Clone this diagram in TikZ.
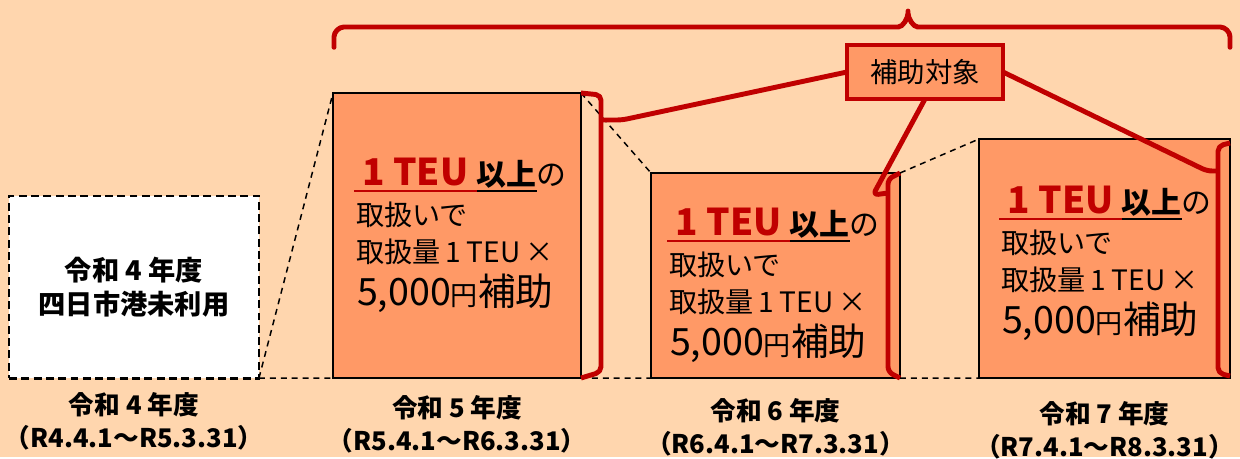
\documentclass[tikz,border=0pt]{standalone}
\usepackage{fontspec}
\setmainfont{Noto Sans CJK JP}
\usepackage{tikz}
\usetikzlibrary{positioning}
\definecolor{peach}{HTML}{FFD6AE}
\definecolor{boxorange}{HTML}{FF9966}
\definecolor{darkred}{HTML}{C00000}
\tikzset{every picture/.style={line width=0.85pt}}
\newcommand\fsz[2]{\fontsize{#1pt}{#2pt}\selectfont}
\newsavebox\ulbox
\newcommand\ulbar[2]{\sbox\ulbox{#2}\rlap{\textcolor{#1}{\vrule width\wd\ulbox height -2.9pt depth 4.0pt}}\usebox\ulbox}
\tikzset{
  yearbox/.style 2 args={draw=black, fill=boxorange, minimum width=#1, minimum height=#2, inner sep=0pt, outer sep=0pt},
  redline/.style={draw=darkred, line width=2.8pt, line join=round, rounded corners=3pt},
  thindash/.style={dash pattern=on 3.4pt off 2.8pt},
  boxline/.style={anchor=base west, inner sep=0pt, outer sep=0pt},
  yearlabel/.style={align=center, inner sep=0pt, font=\bfseries\fsz{14.6}{18.8}}
}
\newcommand\subsidy[3]{%
\node[boxline] (#1a) at ([shift={(#2,#3)}]#1.north west) {\ulbar{darkred}{\textcolor{darkred}{\fsz{21}{21}\bfseries\ 1 TEU\ }}\ulbar{black}{\fsz{17}{17}\bfseries 以上}\fsz{17}{17}の};
\node[boxline] (#1b) at ([shift={(2,40)}]#1a.base west) {\fsz{16}{16}取扱いで};
\node[boxline] (#1c) at ([shift={(2,77)}]#1a.base west) {\fsz{16}{16}取扱量\,1 TEU\,×};
\node[boxline] (#1d) at ([shift={(3,120)}]#1a.base west) {\fsz{21.4}{21.4}5,000{\fsz{15.4}{15.4}円}補助};
}

\begin{document}
\begin{tikzpicture}[x=0.2mm, y=-0.2mm]
\fill[peach] (0,0) rectangle (1240,457);
%
\node[draw=black, fill=white, line width=1.7pt, dash pattern=on 4.5pt off 2.5pt,
  minimum width=50mm, minimum height=36.4mm, inner sep=0pt, outer sep=0pt,
  align=center, font=\bfseries\fsz{15.5}{19.3}] (r4) at (134,287) {令和 4 年度\\四日市港未利用};
\node[yearbox={49.6mm}{57mm}] (r5) at (457,235.5) {};
\node[yearbox={49.8mm}{41mm}] (r6) at (775.5,275.5) {};
\node[yearbox={50.2mm}{47.8mm}] (r7) at (1104.5,258.5) {};
%
\subsidy{r5}{21}{92}
\subsidy{r6}{16}{62}
\subsidy{r7}{20}{74}
%
\node[yearlabel] (y4) at ([shift={(0,43)}]r4.south) {令和 4 年度\\（R4.4.1～R5.3.31）};
\node[yearlabel] (y5) at ([shift={(0,46)}]r5.south) {令和 5 年度\\（R5.4.1～R6.3.31）};
\node[yearlabel] (y6) at ([shift={(0,49)}]r6.south) {令和 6 年度\\（R6.4.1～R7.3.31）};
\node[yearlabel] (y7) at ([shift={(0,52)}]r7.south) {令和 7 年度\\（R7.4.1～R8.3.31）};
%
\draw[thindash] (r4.south east) -- (r5.north west);
\draw[thindash] (r4.south east) -- (r5.south west);
\draw[thindash] (r5.north east) -- (r6.north west);
\draw[thindash] (r5.south east) -- (r6.south west);
\draw[thindash] (r6.north east) -- (r7.north west);
\draw[thindash] (r6.south east) -- (r7.south west);
%
\draw[redline] (334,47) -- (334,42) .. controls (334,32) and (339,27) .. (349,27) -- (893,27)
  .. controls (903,27) and (908,18) .. (908,8)
  .. controls (908,18) and (913,27) .. (923,27) -- (1215,27)
  .. controls (1225,27) and (1230,32) .. (1230,42) -- (1230,46);
%
\node[draw=darkred, line width=2.3pt, fill=boxorange, minimum width=31.2mm, minimum height=10.8mm,
  inner sep=0pt, outer sep=0pt, font=\fsz{15.6}{15.6}] (tag) at (925,72) {補助対象};
%
\coordinate (b5) at (601,120);
\coordinate (b6) at (888,193);
\coordinate (b7) at (1218,171);
\draw[redline] (r5.north east) -- (601,95) -- (601,372) -- (r5.south east);
\draw[redline] (r6.north east) -- (888,179) -- (888,372) -- (r6.south east);
\draw[redline] ([shift={(0,4)}]r7.north east) -- (1218,146) -- (1218,373) -- ([shift={(0,-2)}]r7.south east);
\draw[redline] (tag.west) -- (622,120) -- (b5);
\draw[redline] (tag.south) -- (873,195) -- (b6);
\draw[redline] (tag.east) -- (1207,171) -- (b7);
\end{tikzpicture}
\end{document}
